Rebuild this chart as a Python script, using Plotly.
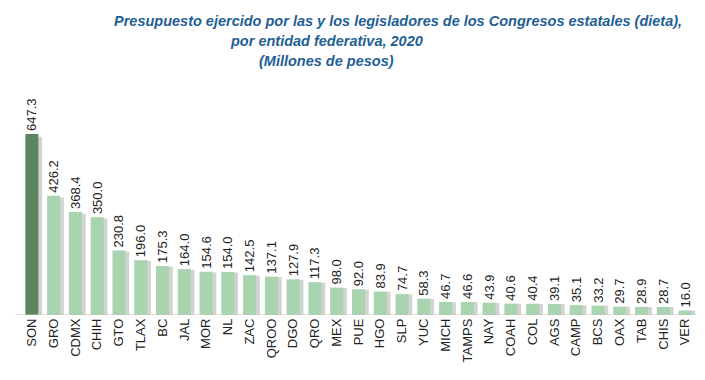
import plotly.graph_objects as go

categories = ["SON", "GRO", "CDMX", "CHIH", "GTO", "TLAX", "BC", "JAL", "MOR", "NL", "ZAC",
              "QROO", "DGO", "QRO", "MEX", "PUE", "HGO", "SLP", "YUC", "MICH", "TAMPS", "NAY",
              "COAH", "COL", "AGS", "CAMP", "BCS", "OAX", "TAB", "CHIS", "VER"]
values = [647.3, 426.2, 368.4, 350.0, 230.8, 196.0, 175.3, 164.0, 154.6, 154.0, 142.5,
          137.1, 127.9, 117.3, 98.0, 92.0, 83.9, 74.7, 58.3, 46.7, 46.6, 43.9,
          40.6, 40.4, 39.1, 35.1, 33.2, 29.7, 28.9, 28.7, 16.0]
labels = [f"{v:.1f}" for v in values]

n = len(categories)
W, H = 705, 380
OFF = 7  # page offset observed in rendering
ml, mr, mt, mb = 13, 17, 93, 73
plot_w = W - ml - mr
plot_h = H - mt - mb
px_per_unit = 181 / 647.3
ymax = plot_h / px_per_unit

colors = ["#5E8462"] + ["#A8D4B0"] * (n - 1)
bw = 0.6

fig = go.Figure()
# drop shadow
fig.add_trace(go.Bar(
    x=list(range(n)), y=[v * 0.985 for v in values],
    width=bw, offset=-bw / 2 + 0.17,
    marker=dict(color="rgba(130,130,130,0.35)", line=dict(width=0)),
    hoverinfo="skip", showlegend=False,
))
fig.add_trace(go.Bar(
    x=list(range(n)), y=values,
    width=bw, offset=-bw / 2,
    marker=dict(color=colors, line=dict(width=0)),
    text=labels, textposition="outside", textangle=-90, constraintext="none",
    textfont=dict(family="Liberation Sans, Arial", size=13, color="#222222"),
    cliponaxis=False, showlegend=False,
))

fig.update_layout(
    width=W, height=H,
    margin=dict(l=ml, r=mr, t=mt, b=mb),
    paper_bgcolor="white", plot_bgcolor="white",
    barmode="overlay",
    xaxis=dict(
        range=[-0.5, n - 0.5], automargin=False,
        tickmode="array", tickvals=list(range(n)), ticktext=categories,
        tickangle=-90, showgrid=False, zeroline=False, ticks="",
        tickfont=dict(family="Liberation Sans, Arial", size=13, color="#222222"),
        showline=False,
    ),
    yaxis=dict(range=[0, ymax], visible=False, automargin=False),
    font=dict(family="Liberation Sans, Arial"),
    shapes=[dict(type="line", xref="paper", yref="y", x0=-0.008, x1=1.008, y0=0, y1=0,
                 line=dict(color="#BFBFBF", width=1))],
)

title_color = "#1F5F95"
tfont = dict(family="Liberation Sans, Arial", size=14.5, color=title_color)
def px_to_paper(px):
    return (px - OFF - ml) / plot_w

def py_to_paper(py):
    return (H - mb - (py - OFF)) / plot_h

for txt, cx, cy in [
    ("<b><i>Presupuesto ejercido por las y los legisladores de los Congresos estatales (dieta),</i></b>", 397, 20),
    ("<b><i>por entidad federativa, 2020</i></b>", 325, 40),
    ("<b><i>(Millones de pesos)</i></b>", 325, 60),
]:
    fig.add_annotation(text=txt, xref="paper", yref="paper", x=px_to_paper(cx), y=py_to_paper(cy),
                       xanchor="center", yanchor="middle", showarrow=False, font=tfont)

fig.write_html("out.html")
